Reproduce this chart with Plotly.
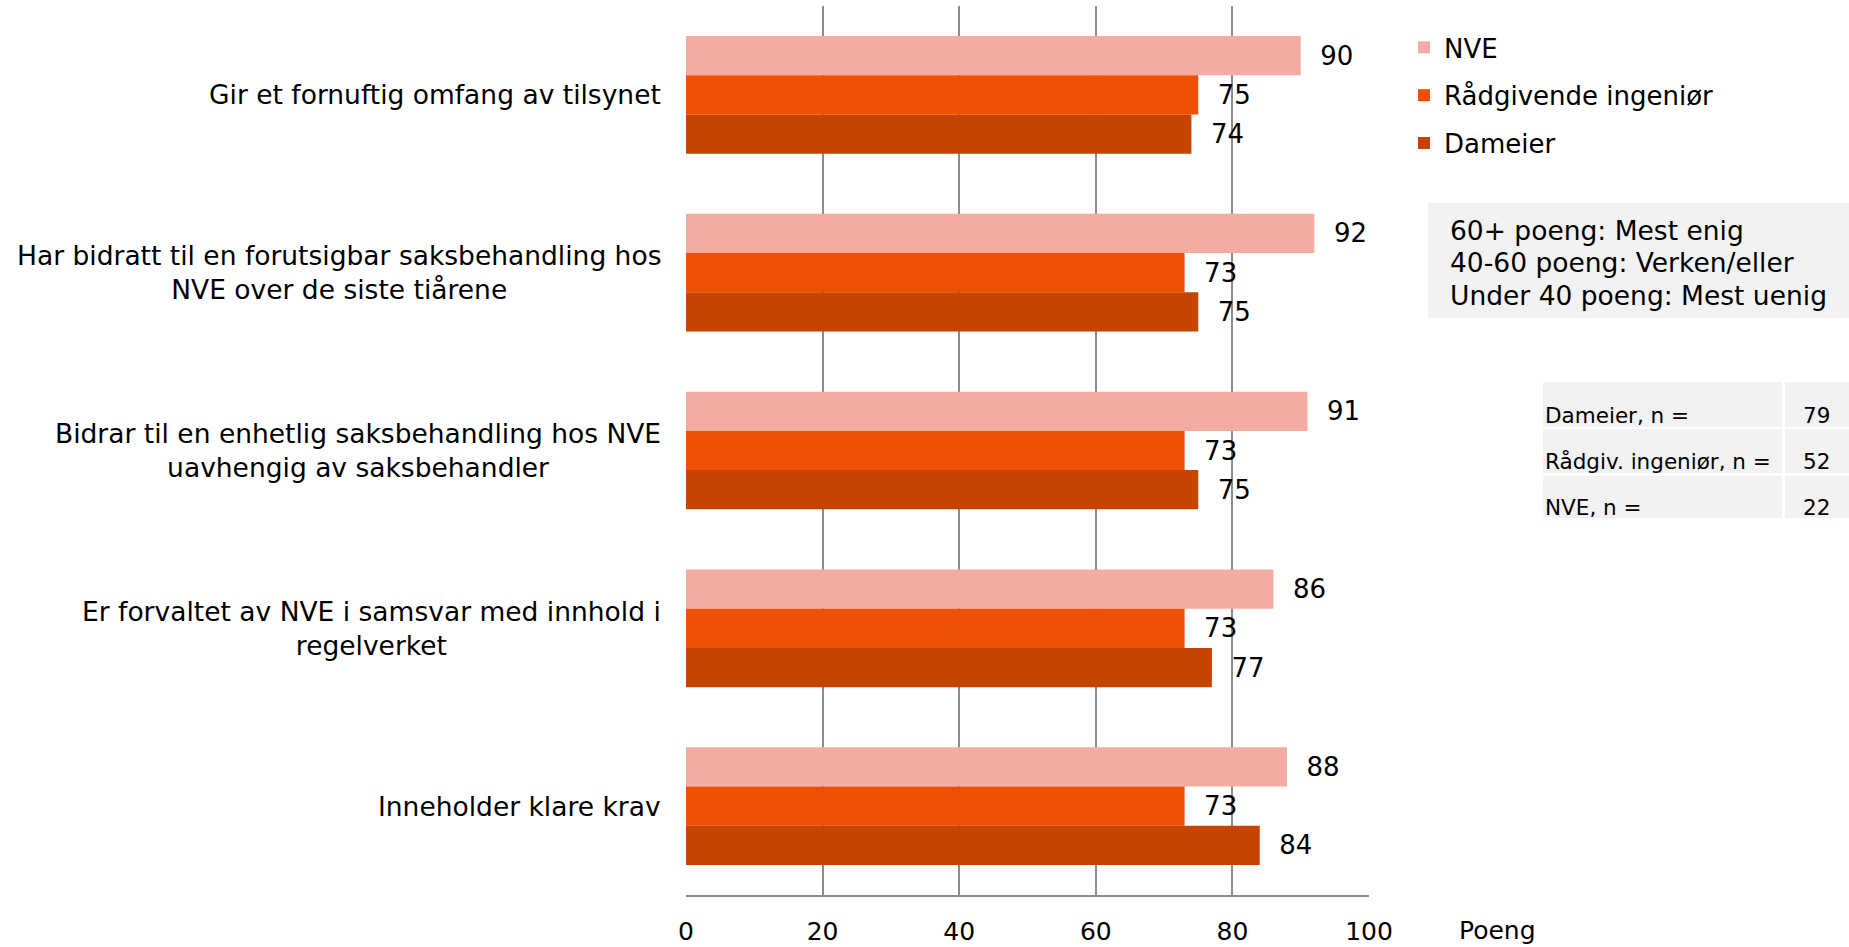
import plotly.graph_objects as go

categories = [
    "Gir et fornuftig omfang av tilsynet",
    "Har bidratt til en forutsigbar saksbehandling hos<br>NVE over de siste tiårene",
    "Bidrar til en enhetlig saksbehandling hos NVE<br>uavhengig av saksbehandler",
    "Er forvaltet av NVE i samsvar med innhold i<br>regelverket",
    "Inneholder klare krav",
]
series_names = ["NVE", "Rådgivende ingeniør", "Dameier"]
nve = [90, 92, 91, 86, 88]
radgivende = [75, 73, 73, 73, 73]
dameier = [74, 75, 75, 77, 84]
colors = ["#F4ABA0", "#F05006", "#C64300"]

x_ticks = [0, 20, 40, 60, 80, 100]
info_lines = ["60+ poeng: Mest enig", "40-60 poeng: Verken/eller", "Under 40 poeng: Mest uenig"]
n_labels = ["Dameier, n =", "Rådgiv. ingeniør, n =", "NVE, n ="]
n_values = [79, 52, 22]

FONT = "DejaVu Sans, Verdana, sans-serif"
W, H = 1849, 947
L, R, T, B = 686, 1369, 6, 895


def px_x(x):
    return (x - L) / (R - L)


def px_y(y):
    return 1 - (y - T) / (B - T)


fig = go.Figure()
for name, vals, col in zip(series_names, [nve, radgivende, dameier], colors):
    fig.add_trace(go.Bar(
        y=categories, x=vals, name=name, orientation="h",
        marker=dict(color=col, line=dict(width=0)),
        text=vals, texttemplate="\u00a0\u00a0%{x}", textposition="outside",
        textfont=dict(family=FONT, size=26, color="black"),
        cliponaxis=False, legendgroup=name,
    ))

annotations = []
for c in categories:
    annotations.append(dict(
        x=0, y=c, xref="x", yref="y", text=c, showarrow=False,
        xanchor="right", yanchor="middle", align="center", xshift=-23,
        font=dict(family=FONT, size=26.5, color="black"),
    ))

# Poeng label
annotations.append(dict(
    x=px_x(1457), y=px_y(931), xref="paper", yref="paper", text="Poeng",
    showarrow=False, xanchor="left", yanchor="middle",
    font=dict(family=FONT, size=25, color="black"),
))

shapes = []
# info box
shapes.append(dict(type="rect", xref="paper", yref="paper",
                   x0=px_x(1428), x1=px_x(1849), y0=px_y(318), y1=px_y(203),
                   fillcolor="#F2F2F2", line=dict(width=0), layer="below"))
for line, ly in zip(info_lines, [230, 262, 295]):
    annotations.append(dict(
        x=px_x(1448), y=px_y(ly), xref="paper", yref="paper",
        text=line, showarrow=False, xanchor="left", yanchor="middle",
        align="left", font=dict(family=FONT, size=26.5, color="black"),
    ))

# n table
row_tops = [382, 429, 476]
row_bots = [427, 473, 518]
text_y = [415, 461, 507]
for lab, val, t, b, ty in zip(n_labels, n_values, row_tops, row_bots, text_y):
    shapes.append(dict(type="rect", xref="paper", yref="paper",
                       x0=px_x(1543), x1=px_x(1782), y0=px_y(b), y1=px_y(t),
                       fillcolor="#F2F2F2", line=dict(width=0), layer="below"))
    shapes.append(dict(type="rect", xref="paper", yref="paper",
                       x0=px_x(1785), x1=px_x(1849), y0=px_y(b), y1=px_y(t),
                       fillcolor="#F2F2F2", line=dict(width=0), layer="below"))
    annotations.append(dict(
        x=px_x(1543), y=px_y(ty), xref="paper", yref="paper", text=lab,
        showarrow=False, xanchor="left", yanchor="middle",
        font=dict(family=FONT, size=21.5, color="black"),
    ))
    annotations.append(dict(
        x=px_x(1832), y=px_y(ty), xref="paper", yref="paper", text=str(val),
        showarrow=False, xanchor="right", yanchor="middle",
        font=dict(family=FONT, size=21.5, color="black"),
    ))

fig.update_layout(
    width=W, height=H,
    margin=dict(l=L, r=W - R, t=T, b=H - B, pad=0, autoexpand=False),
    paper_bgcolor="white", plot_bgcolor="white",
    barmode="group", bargap=0.338, bargroupgap=0,
    font=dict(family=FONT, color="black"),
    showlegend=True,
    legend=dict(
        x=px_x(1404), y=px_y(24), xanchor="left", yanchor="top",
        traceorder="grouped", tracegroupgap=11,
        font=dict(family=FONT, size=26, color="black"),
        bgcolor="rgba(0,0,0,0)",
    ),
    xaxis=dict(
        range=[0, 100], tickvals=x_ticks, showgrid=True, gridcolor="#8C8C8C",
        gridwidth=1.5, zeroline=False, showline=True, linecolor="#8C8C8C",
        linewidth=1.5, ticks="", ticklabelstandoff=13, automargin=False,
        tickfont=dict(family=FONT, size=25, color="black"),
        fixedrange=True,
    ),
    yaxis=dict(
        autorange="reversed", showticklabels=False, showgrid=False,
        zeroline=False, showline=False, ticks="", automargin=False,
    ),
    annotations=annotations,
    shapes=shapes,
)

fig.write_html("out.html", config={"displayModeBar": False},
               post_script="document.body.style.margin='0';")
